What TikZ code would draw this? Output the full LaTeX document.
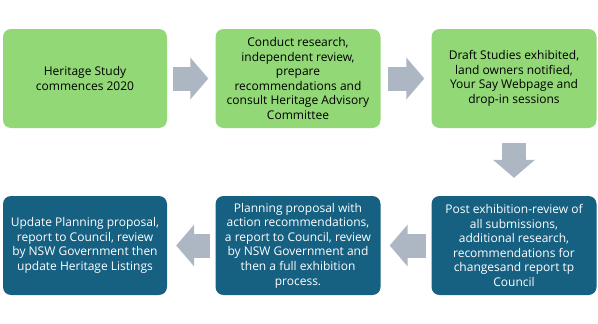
\documentclass[tikz,border=0pt]{standalone}
\usepackage{fontspec}
\setmainfont{Open Sans}
\definecolor{stepgreen}{RGB}{146, 216, 119}
\definecolor{stepblue}{RGB}{22, 96, 130}
\definecolor{arrowgray}{RGB}{172, 183, 195}
\usetikzlibrary{arrows.meta}
\tikzset{
    stagebox/.style={rectangle, rounded corners=8pt, minimum width=165pt, minimum height=99pt, inner sep=2pt, align=center, font=\fontsize{12}{14.6}\selectfont},
    greenbox/.style={stagebox, fill=stepgreen, text=black},
    bluebox/.style={stagebox, fill=stepblue, text=white},
    blockarrow/.style={draw=arrowgray, line width=24pt, -{Triangle[length=18pt, width=41pt]}},
}

\begin{document}
\begin{tikzpicture}[x=1pt, y=-1pt]
    \useasboundingbox (0,0) rectangle (598,324);
    % top row
    \node[greenbox, minimum width=164pt] (start) at (85, 78.5)
          {Heritage Study\\commences 2020};
    \node[greenbox] (research) at (298, 78.5)
          {Conduct research,\\independent review,\\prepare\\recommendations and\\consult Heritage Advisory\\Committee};
    \node[greenbox] (exhibit) at (514, 78.5)
          {Draft Studies exhibited,\\land owners notified,\\Your Say Webpage and\\drop-in sessions};
    % bottom row
    \node[bluebox] (review) at (514, 245.5)
          {Post exhibition-review of\\all submissions,\\additional research,\\recommendations for\\changesand report tp\\Council};
    \node[bluebox] (proposal) at (298, 245.5)
          {Planning proposal with\\action recommendations,\\a report to Council, review\\by NSW Government and\\then a full exhibition\\process.};
    \node[bluebox, minimum width=164pt] (listing) at (85, 245.5)
          {Update Planning proposal,\\report to Council, review\\by NSW Government then\\update Heritage Listings};

    \draw[blockarrow, shorten <=6pt, shorten >=7pt] (start) -- (research);
    \draw[blockarrow, shorten <=7pt, shorten >=7pt] (research) -- (exhibit);
    \draw[blockarrow, shorten <=15pt, shorten >=18pt] (exhibit) -- (review);
    \draw[blockarrow, shorten <=5pt, shorten >=9pt] (review) -- (proposal);
    \draw[blockarrow, shorten <=5pt, shorten >=9pt] (proposal) -- (listing);
\end{tikzpicture}
\end{document}
